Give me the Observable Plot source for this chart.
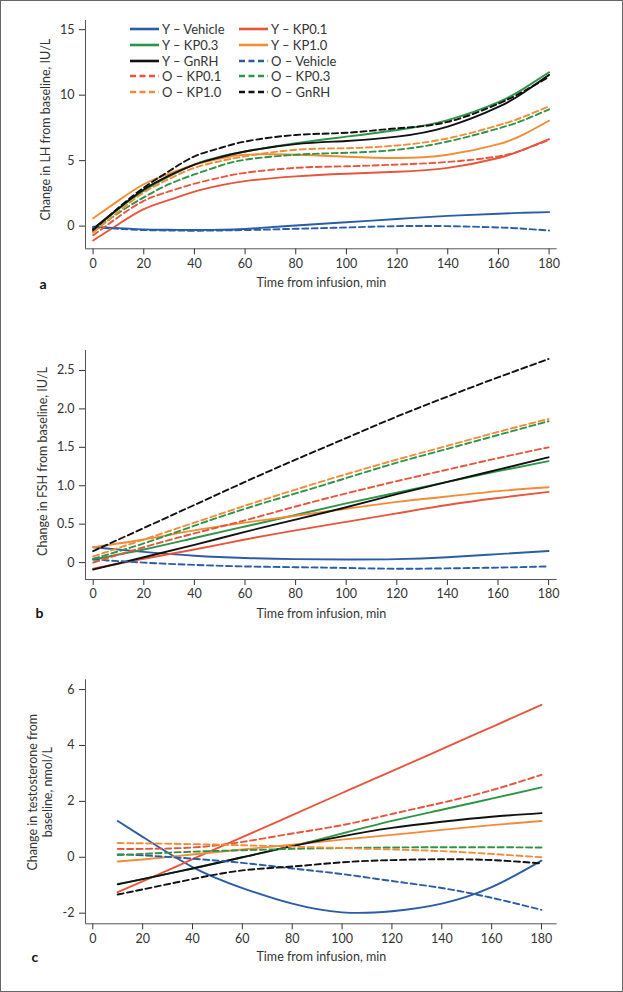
<!DOCTYPE html>
<html><head><meta charset="utf-8">
<script src="https://cdn.jsdelivr.net/npm/d3@7"></script>
<script src="https://cdn.jsdelivr.net/npm/@observablehq/plot@0.6"></script>
<style>
body{margin:0;background:#fff;}
#fig{position:relative;width:623px;height:992px;font-family:Lato, sans-serif;overflow:hidden;background:#fff}
#border{position:absolute;left:0;top:0;width:623px;height:992px;box-sizing:border-box;border:1px solid #666;pointer-events:none}
#legend{position:absolute;left:0;top:0;font-size:13px;color:#333}
.item{position:absolute;display:flex;align-items:center;height:16px;white-space:nowrap}
.item svg{margin-right:2px}
</style></head><body><div id="fig"><div id="border"></div></div>
<script>
// ---------- series ----------
const series = ["Y – Vehicle","Y – KP0.1","Y – KP0.3","Y – KP1.0","Y – GnRH",
                "O – Vehicle","O – KP0.1","O – KP0.3","O – KP1.0","O – GnRH"];
const seriesColors = ["#2a5da6","#e8553d","#2e9447","#f28c38","#111111",
                      "#2a5da6","#e8553d","#2e9447","#f28c38","#111111"];
const seriesDashed = [false,false,false,false,false,true,true,true,true,true];

const xTicks = [0,20,40,60,80,100,120,140,160,180];
const xTitle = "Time from infusion, min";

// ---------- panel a: LH ----------
const lhTimes = [0,10,20,30,40,50,60,80,100,120,140,160,170,180];
const lhValues = [
  [-0.05,-0.15,-0.25,-0.28,-0.3,-0.28,-0.22,0.05,0.3,0.55,0.78,0.95,1.02,1.07], // Y Vehicle
  [-1.1,0.15,1.3,2.0,2.64,3.1,3.44,3.8,4.0,4.15,4.45,5.2,5.85,6.65],           // Y KP0.1
  [-0.3,1.3,2.7,3.8,4.7,5.3,5.7,6.33,6.83,7.34,8.1,9.47,10.5,11.75],           // Y KP0.3
  [0.6,1.95,3.2,4.0,4.7,5.15,5.45,5.45,5.3,5.2,5.45,6.26,7.0,8.05],            // Y KP1.0
  [-0.2,1.35,2.8,3.85,4.7,5.25,5.7,6.26,6.5,6.83,7.6,9.1,10.2,11.55],          // Y GnRH
  [-0.1,-0.2,-0.3,-0.33,-0.35,-0.33,-0.3,-0.2,-0.1,0.0,0.0,-0.1,-0.2,-0.33],   // O Vehicle
  [-0.7,0.7,1.93,2.65,3.24,3.7,4.07,4.45,4.57,4.7,4.9,5.33,5.85,6.58],         // O KP0.1
  [-0.4,1.0,2.2,3.2,3.95,4.6,5.07,5.45,5.6,5.83,6.46,7.46,8.1,8.92],           // O KP0.3
  [-0.5,1.1,2.56,3.6,4.45,4.95,5.33,5.83,5.95,6.16,6.7,7.7,8.35,9.15],         // O KP1.0
  [-0.3,1.4,2.94,4.2,5.33,5.95,6.46,6.96,7.13,7.47,7.96,9.35,10.3,11.4]        // O GnRH
];
const lhTicks = [0,5,10,15];

// ---------- panel b: FSH ----------
const fshTimes = [0,20,40,60,80,100,120,140,160,180];
const fshValues = [
  [0.2,0.14,0.09,0.06,0.045,0.04,0.045,0.07,0.11,0.15],
  [-0.08,0.05,0.17,0.3,0.42,0.53,0.64,0.75,0.84,0.92],
  [0.04,0.17,0.32,0.47,0.62,0.77,0.91,1.05,1.19,1.32],
  [0.2,0.3,0.42,0.52,0.61,0.7,0.79,0.86,0.93,0.98],
  [-0.09,0.07,0.23,0.4,0.56,0.72,0.89,1.05,1.21,1.37],
  [0.04,0.0,-0.03,-0.05,-0.06,-0.07,-0.08,-0.075,-0.065,-0.05],
  [0.0,0.2,0.38,0.55,0.73,0.9,1.06,1.21,1.36,1.5],
  [0.05,0.25,0.48,0.7,0.9,1.1,1.3,1.48,1.66,1.84],
  [0.08,0.3,0.52,0.74,0.95,1.15,1.34,1.52,1.7,1.87],
  [0.15,0.45,0.75,1.05,1.34,1.62,1.9,2.16,2.41,2.65]
];
const fshTicks = [0,0.5,1,1.5,2,2.5];

// ---------- panel c: testosterone ----------
const tTimes = [10,20,40,60,80,100,120,140,160,180];
const tValues = [
  [1.3,0.73,-0.35,-1.1,-1.66,-1.97,-1.93,-1.66,-1.07,-0.12],
  [-1.25,-0.86,-0.07,0.72,1.51,2.3,3.08,3.87,4.66,5.45],
  [-0.95,-0.78,-0.4,0.0,0.4,0.85,1.3,1.7,2.1,2.5],
  [-0.15,-0.08,0.1,0.28,0.45,0.63,0.8,0.98,1.15,1.3],
  [-0.97,-0.78,-0.4,0.0,0.4,0.75,1.05,1.27,1.45,1.58],
  [0.1,0.07,-0.05,-0.2,-0.4,-0.6,-0.85,-1.1,-1.45,-1.88],
  [0.3,0.3,0.35,0.55,0.85,1.15,1.55,1.95,2.4,2.95],
  [0.08,0.12,0.2,0.25,0.3,0.33,0.35,0.36,0.36,0.35],
  [0.51,0.5,0.47,0.43,0.38,0.33,0.28,0.22,0.12,0.0],
  [-1.33,-1.15,-0.78,-0.47,-0.33,-0.18,-0.1,-0.07,-0.1,-0.22]
];
const tTicks = [-2,0,2,4,6];

const fig = document.getElementById("fig");

function makePanel(cfg){
  const marks = [
    Plot.ruleY([cfg.yDomain[0]], {stroke:"#555", strokeWidth:1}),
    Plot.ruleX([cfg.xDomain[0]], {stroke:"#555", strokeWidth:1})
  ];
  series.forEach((s,i)=>{
    const d = cfg.times.map((t,j)=>({t, v: cfg.values[i][j]}));
    const opts = {x:"t", y:"v", stroke: seriesColors[i], strokeWidth: 1.9, curve:"natural"};
    if (seriesDashed[i]) opts.strokeDasharray = "6,3.5";
    marks.push(Plot.line(d, opts));
  });
  marks.push(
    Plot.text([xTitle], {text:d=>d, frameAnchor:"bottom", dy: cfg.xTitleDy, fontSize:12.5, fill:"#333"}),
    Plot.text([cfg.yTitle], {text:d=>d, frameAnchor:"left", textAnchor:"middle", rotate:-90, dx: cfg.yTitleDx, dy: cfg.yTitleDy, fontSize:12.5, fill:"#333", lineHeight:1.15}),
    Plot.text([cfg.letter], {text:d=>d, frameAnchor:"bottom-left", textAnchor:"start", dx: cfg.letterDx, dy: cfg.letterDy, fontSize:14, fontWeight:"bold", fill:"#111"})
  );
  const p = Plot.plot({
    width:623, height: cfg.height,
    marginLeft:85, marginRight:66.3, marginTop: cfg.marginTop, marginBottom: cfg.marginBottom,
    x:{domain: cfg.xDomain, ticks: xTicks, tickSize:6, tickPadding:4, label:null},
    y:{domain: cfg.yDomain, ticks: cfg.yTicks, tickFormat: cfg.yFormat, tickSize:6, tickPadding:5, label:null},
    style:{fontFamily:"Lato, sans-serif", fontSize:"12.5px", color:"#333", overflow:"visible", background:"transparent"},
    marks
  });
  p.style.position="absolute"; p.style.left="0px"; p.style.top=cfg.top+"px";
  fig.insertBefore(p, document.getElementById("border"));
}

makePanel({top:0, height:310, marginTop:20, marginBottom:61.7,
  times: lhTimes, values: lhValues, xDomain:[-3,183.2], yDomain:[-1.73,15.7], yTicks: lhTicks,
  yFormat: d=>String(d), yTitle:"Change in LH from baseline, IU/L", yTitleDx:-40, yTitleDy:-5,
  xTitleDy:38.5, letter:"a", letterDx:-46, letterDy:40});

makePanel({top:320, height:320, marginTop:30, marginBottom:61,
  times: fshTimes, values: fshValues, xDomain:[-3.04,183.4], yDomain:[-0.22,2.76], yTicks: fshTicks,
  yFormat: d=> d===0 ? "0" : d.toFixed(1), yTitle:"Change in FSH from baseline, IU/L", yTitleDx:-43, yTitleDy:-3.5,
  xTitleDy:38, letter:"b", letterDx:-50, letterDy:38});

makePanel({top:650, height:330, marginTop:29.3, marginBottom:56.7,
  times: tTimes, values: tValues, xDomain:[-2.93,186.3], yDomain:[-2.38,6.35], yTicks: tTicks,
  yFormat: d=>String(d), yTitle:"Change in testosterone from\nbaseline, nmol/L", yTitleDx:-45.5, yTitleDy:-9.6,
  xTitleDy:37.5, letter:"c", letterDx:-54, letterDy:38.5});

// ---------- legend ----------
const legend = d3.select("#fig").insert("div", "#border").attr("id","legend");
const colX = [130, 239];
const rowY = [29, 44.7, 60.7, 76.3, 92];
series.forEach((s,i)=>{
  const col = i % 2, row = Math.floor(i/2);
  const item = legend.append("div").attr("class","item")
    .style("left", colX[col]+"px").style("top", (rowY[row]-8)+"px");
  const svg = item.append("svg").attr("width",30).attr("height",8);
  svg.append("line").attr("x1",0).attr("x2",29).attr("y1",4).attr("y2",4)
    .attr("stroke", seriesColors[i]).attr("stroke-width", 2.6)
    .attr("stroke-dasharray", seriesDashed[i] ? "6,3.5" : null);
  item.append("span").text(s);
});
</script>
</body></html>
